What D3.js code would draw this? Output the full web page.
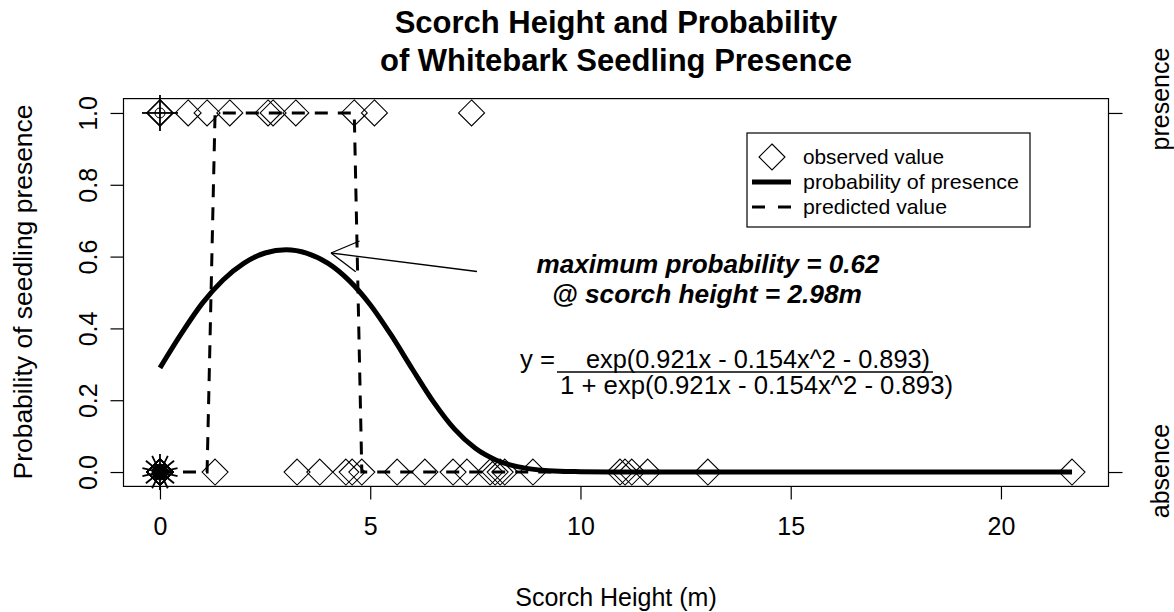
<!DOCTYPE html>
<html>
<head>
<meta charset="utf-8">
<script src="https://cdn.jsdelivr.net/npm/d3@7/dist/d3.min.js"></script>
<style>
  body { margin: 0; background: #fff; }
  svg { display: block; font-family: "Liberation Sans", Arial, sans-serif; }
</style>
</head>
<body>
<div id="chart"></div>
<script>
// observed values (scorch height in m), presence = 1, absence = 0
const presX = [0, 0, 0, 0, 0.67, 1.12, 1.66, 2.57, 2.69, 3.23, 4.62, 5.10, 7.41];
const absX = [0, 0, 0, 0, 0, 0, 0, 0, 0, 0, 0, 0, 0, 0,
  1.31, 3.26, 3.80, 4.42, 4.57, 4.80, 5.64, 6.30, 6.97, 7.30, 7.85, 7.97, 8.09, 8.20, 8.87,
  10.94, 11.06, 11.22, 11.60, 13.03, 21.69];

// predicted value (0/1) at each sorted observed x
const predX = [0, 0.67, 1.12, 1.31, 1.66, 2.57, 2.69, 3.23, 3.26, 3.80, 4.42, 4.57, 4.62, 4.80,
  5.10, 5.64, 6.30, 6.97, 7.30, 7.41, 7.85, 7.97, 8.09, 8.20, 8.87, 10.94, 11.06, 11.22, 11.60, 13.03, 21.69];
const predY = [0, 0, 0, 1, 1, 1, 1, 1, 1, 1, 1, 1, 1, 0,
  0, 0, 0, 0, 0, 0, 0, 0, 0, 0, 0, 0, 0, 0, 0, 0, 0];

// probability of presence curve
const curveX = [0, 0.5, 1, 1.5, 2, 2.5, 3, 3.5, 4, 4.5, 5, 5.5, 6, 6.5, 7, 7.5, 8, 8.5, 9, 9.5, 10, 11, 13, 17, 21.69];
const curveP = [0.290, 0.384, 0.469, 0.535, 0.582, 0.610, 0.619, 0.609, 0.581, 0.533, 0.466, 0.381, 0.287,
  0.196, 0.120, 0.066, 0.033, 0.015, 0.006, 0.002, 0.001, 0, 0, 0, 0];

const xTicks = [0, 5, 10, 15, 20];
const yTicks = [0, 0.2, 0.4, 0.6, 0.8, 1.0];
const sideLabels = ["absence", "presence"];
const legendLabels = ["observed value", "probability of presence", "predicted value"];

const W = 1174, H = 612;
const svg = d3.select("#chart").append("svg").attr("width", W).attr("height", H);

const x = d3.scaleLinear().domain([-0.8676, 22.5576]).range([123.5, 1108.5]);
const y = d3.scaleLinear().domain([-0.04, 1.04]).range([486.4, 98.6]);

const ink = "#000";

// box
svg.append("rect")
  .attr("x", x.range()[0]).attr("y", y.range()[1])
  .attr("width", x.range()[1] - x.range()[0]).attr("height", y.range()[0] - y.range()[1])
  .attr("fill", "none").attr("stroke", ink).attr("stroke-width", 1.2);

// axes
let xAxis = d3.axisBottom(x).tickValues(xTicks).tickSize(13).tickPadding(18).tickFormat(d3.format("d"));
let gx = svg.append("g").attr("transform", "translate(0," + y.range()[0] + ")").call(xAxis);
gx.select(".domain").remove();
gx.selectAll("text").attr("font-size", 25).attr("fill", ink).style("font-family", "Liberation Sans, Arial");

let yAxis = d3.axisLeft(y).tickValues(yTicks).tickSize(13).tickFormat(d3.format(".1f"));
let gy = svg.append("g").attr("transform", "translate(" + x.range()[0] + ",0)").call(yAxis);
gy.select(".domain").remove();
gy.selectAll(".tick text")
  .attr("font-size", 25).attr("fill", ink)
  .attr("x", 0).attr("dy", 0)
  .attr("text-anchor", "middle")
  .attr("transform", "translate(-26.5,0) rotate(-90)")
  .style("font-family", "Liberation Sans, Arial");

// right side axis: ticks at 0 and 1, labels placed as in the figure
let yAxisR = d3.axisRight(y).tickValues([0, 1]).tickSize(14).tickFormat("");
let gr = svg.append("g").attr("transform", "translate(" + x.range()[1] + ",0)").call(yAxisR);
gr.select(".domain").remove();
const sideY = [471, 99];
sideLabels.forEach((s, i) => {
  svg.append("text")
    .attr("transform", "translate(1169," + sideY[i] + ") rotate(-90)")
    .attr("text-anchor", "middle").attr("font-size", 25).text(s);
});
svg.selectAll(".tick line").attr("stroke", ink).attr("stroke-width", 1.2);

// titles
svg.append("text").attr("x", 616).attr("y", 33).attr("text-anchor", "middle")
  .attr("font-size", 31).attr("font-weight", "bold").text("Scorch Height and Probability");
svg.append("text").attr("x", 616).attr("y", 71).attr("text-anchor", "middle")
  .attr("font-size", 31).attr("font-weight", "bold").text("of Whitebark Seedling Presence");
svg.append("text").attr("x", 616).attr("y", 606).attr("text-anchor", "middle")
  .attr("font-size", 25).text("Scorch Height (m)");
svg.append("text").attr("transform", "translate(32,292) rotate(-90)").attr("text-anchor", "middle")
  .attr("font-size", 25).attr("textLength", 375).attr("lengthAdjust", "spacingAndGlyphs")
  .text("Probability of seedling presence");

// diamond symbol
const diamond = (cx, cy, r) => `M${cx},${cy - r}L${cx + r},${cy}L${cx},${cy + r}L${cx - r},${cy}Z`;

const obs = presX.map(v => ({x: v, y: 1})).concat(absX.map(v => ({x: v, y: 0})));
svg.append("g").selectAll("path").data(obs).join("path")
  .attr("d", d => diamond(x(d.x), y(d.y), 13))
  .attr("fill", "none").attr("stroke", ink).attr("stroke-width", 1.1);

// sunflowers for repeated points
const groups = d3.rollups(obs, v => v.length, d => d.x + "_" + d.y)
  .map(([k, n]) => ({x: +k.split("_")[0], y: +k.split("_")[1], n: n}))
  .filter(d => d.n > 1);
groups.forEach(g => {
  let cx = x(g.x), cy = y(g.y);
  let petals = d3.range(1, g.n + 1).map(z => 2 * Math.PI * z / g.n);
  svg.append("g").selectAll("line").data(petals).join("line")
    .attr("x1", cx).attr("y1", cy)
    .attr("x2", a => cx + 18 * Math.sin(a))
    .attr("y2", a => cy - 18 * Math.cos(a))
    .attr("stroke", ink).attr("stroke-width", 1.8);
  svg.append("circle").attr("cx", cx).attr("cy", cy).attr("r", g.n > 8 ? 8 : 5)
    .attr("fill", g.n > 8 ? ink : "none").attr("stroke", ink).attr("stroke-width", 1);
});

// predicted value (dashed) and probability curve
const pred = predX.map((v, i) => ({x: v, y: predY[i]}));
svg.append("path").datum(pred)
  .attr("d", d3.line().x(d => x(d.x)).y(d => y(d.y)))
  .attr("fill", "none").attr("stroke", ink).attr("stroke-width", 3)
  .attr("stroke-dasharray", "13,10");
const curve = curveX.map((v, i) => ({x: v, y: curveP[i]}));
svg.append("path").datum(curve)
  .attr("d", d3.line().x(d => x(d.x)).y(d => y(d.y)).curve(d3.curveMonotoneX))
  .attr("fill", "none").attr("stroke", ink).attr("stroke-width", 5)
  .attr("stroke-linejoin", "round");

// arrow to maximum
const ax0 = 477, ay0 = 271.5, ax1 = 331, ay1 = 253;
svg.append("line").attr("x1", ax0).attr("y1", ay0).attr("x2", ax1).attr("y2", ay1)
  .attr("stroke", ink).attr("stroke-width", 1.3);
const ang = Math.atan2(ay0 - ay1, ax0 - ax1), L = 31;
[Math.PI / 6, -Math.PI / 6].forEach(da => {
  svg.append("line").attr("x1", ax1).attr("y1", ay1)
    .attr("x2", ax1 + L * Math.cos(ang + da)).attr("y2", ay1 + L * Math.sin(ang + da))
    .attr("stroke", ink).attr("stroke-width", 1.3);
});
svg.append("text").attr("x", 708).attr("y", 273).attr("text-anchor", "middle")
  .attr("font-size", 25).attr("font-weight", "bold").attr("font-style", "italic")
  .attr("textLength", 343).attr("lengthAdjust", "spacingAndGlyphs")
  .text("maximum probability = 0.62");
svg.append("text").attr("x", 707).attr("y", 303).attr("text-anchor", "middle")
  .attr("font-size", 25).attr("font-weight", "bold").attr("font-style", "italic")
  .attr("textLength", 310).attr("lengthAdjust", "spacingAndGlyphs")
  .text("@ scorch height = 2.98m");

// equation
svg.append("text").attr("x", 520).attr("y", 368).attr("font-size", 25)
  .attr("textLength", 35).attr("lengthAdjust", "spacingAndGlyphs").text("y =");
svg.append("text").attr("x", 586).attr("y", 368).attr("font-size", 25)
  .attr("textLength", 344).attr("lengthAdjust", "spacingAndGlyphs")
  .text("exp(0.921x - 0.154x^2 - 0.893)");
svg.append("line").attr("x1", 557).attr("x2", 933).attr("y1", 372).attr("y2", 372)
  .attr("stroke", ink).attr("stroke-width", 1.3);
svg.append("text").attr("x", 560).attr("y", 394).attr("font-size", 25)
  .attr("textLength", 393).attr("lengthAdjust", "spacingAndGlyphs")
  .text("1 + exp(0.921x - 0.154x^2 - 0.893)");

// legend
const lg = svg.append("g");
lg.append("rect").attr("x", 747).attr("y", 133).attr("width", 283).attr("height", 94)
  .attr("fill", "#fff").attr("stroke", ink).attr("stroke-width", 1.2);
const ly = [157, 182, 207];
lg.append("path").attr("d", diamond(772, ly[0], 13)).attr("fill", "none").attr("stroke", ink).attr("stroke-width", 1.1);
lg.append("line").attr("x1", 752).attr("x2", 791).attr("y1", ly[1]).attr("y2", ly[1])
  .attr("stroke", ink).attr("stroke-width", 5);
lg.append("line").attr("x1", 752).attr("x2", 791).attr("y1", ly[2]).attr("y2", ly[2])
  .attr("stroke", ink).attr("stroke-width", 3).attr("stroke-dasharray", "13,13");
const legW = [141, 216, 144];
lg.selectAll("text.lab").data(legendLabels).join("text").attr("class", "lab")
  .attr("x", 803).attr("y", (d, i) => ly[i] + 7).attr("font-size", 21)
  .attr("textLength", (d, i) => legW[i]).attr("lengthAdjust", "spacingAndGlyphs")
  .text(d => d);
</script>
</body>
</html>
